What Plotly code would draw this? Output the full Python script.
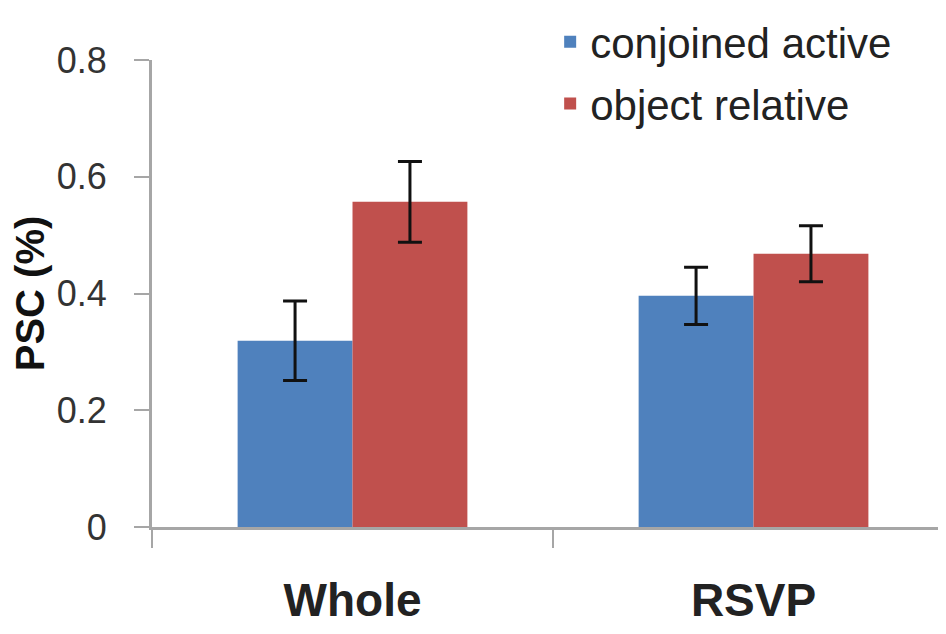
import plotly.graph_objects as go

categories = ["Whole", "RSVP"]
conjoined_active = [0.319, 0.396]
conjoined_active_err = [0.068, 0.049]
object_relative = [0.557, 0.468]
object_relative_err = [0.069, 0.048]
y_ticks = [0, 0.2, 0.4, 0.6, 0.8]
y_tick_labels = ["0", "0.2", "0.4", "0.6", "0.8"]

BLUE = "#4F81BD"
RED = "#C0504D"
AXIS = "#A6A6A6"

fig = go.Figure()
fig.add_trace(go.Bar(
    x=categories, y=conjoined_active, name="conjoined active",
    legendgroup="a",
    marker=dict(color=BLUE, line=dict(width=0)),
    error_y=dict(type="data", array=conjoined_active_err, color="#111111",
                 thickness=3, width=12),
))
fig.add_trace(go.Bar(
    x=categories, y=object_relative, name="object relative",
    legendgroup="b",
    marker=dict(color=RED, line=dict(width=0)),
    error_y=dict(type="data", array=object_relative_err, color="#111111",
                 thickness=3, width=12),
))

fig.update_layout(
    width=938, height=626,
    margin=dict(l=144, r=0, t=52, b=107, autoexpand=False),
    paper_bgcolor="white", plot_bgcolor="white",
    barmode="group", bargap=0.427, bargroupgap=0,
    font=dict(family="Liberation Sans, Arial, sans-serif", color="#222222"),
    legend=dict(
        xref="container", yref="container",
        x=0.578, y=1.0, xanchor="left", yanchor="top",
        font=dict(size=42, color="#222222"),
        bgcolor="rgba(0,0,0,0)", tracegroupgap=4,
    ),
    xaxis=dict(
        range=[-0.5, 1.48], automargin=False,
        showline=True, linecolor=AXIS, linewidth=3,
        ticks="outside", tickson="boundaries", ticklen=18, tickwidth=2,
        tickcolor=AXIS,
        tickfont=dict(size=46, family="Liberation Sans, Arial, sans-serif",
                      color="#222222", weight="bold"),
        ticklabelstandoff=31,
        showgrid=False, zeroline=False,
    ),
    yaxis=dict(
        range=[0, 0.8], automargin=False,
        tickvals=y_ticks, ticktext=y_tick_labels,
        showline=True, linecolor=AXIS, linewidth=3,
        ticks="outside", ticklen=15, tickwidth=2, tickcolor=AXIS,
        tickfont=dict(size=36, color="#333333"),
        ticklabelstandoff=20,
        showgrid=False, zeroline=False,
        title=dict(text="PSC (%)", standoff=0,
                   font=dict(size=40, color="#111111", weight="bold")),
    ),
)

fig.write_html("out.html")
